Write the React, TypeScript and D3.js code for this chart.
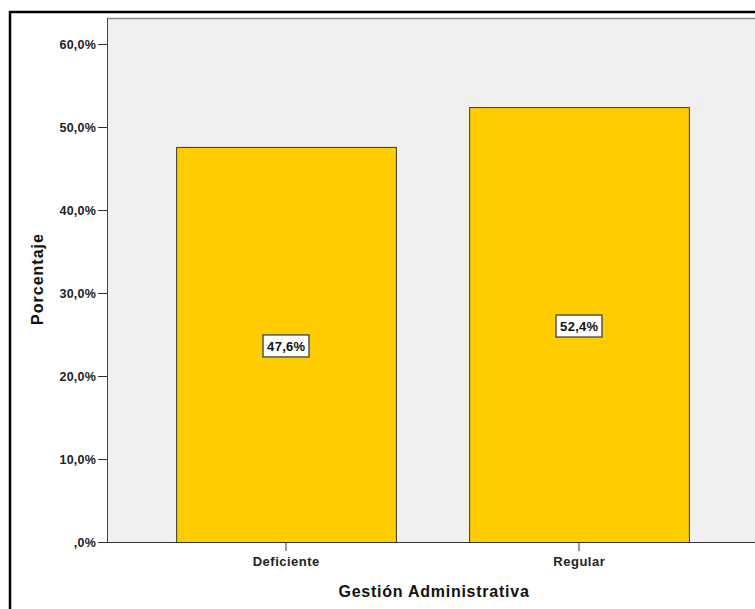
import React from "react";
import * as d3 from "d3";

const categories = ["Deficiente", "Regular"];
const percentages = [47.6, 52.4];
const yTicks = [0, 10, 20, 30, 40, 50, 60];
const yTickLabels = [",0%", "10,0%", "20,0%", "30,0%", "40,0%", "50,0%", "60,0%"];
const valueLabels = ["47,6%", "52,4%"];

const W = 755;
const H = 609;
const plotLeft = 107;
const plotTop = 18;
const plotBottom = 542;

export default function App() {
  const y = d3.scaleLinear().domain([0, 60]).range([plotBottom, 44]);
  const x = d3
    .scaleBand<string>()
    .domain(categories)
    .range([139.5, 725.5])
    .paddingInner(0.25)
    .paddingOuter(0.125);

  const font = "Arial, 'Liberation Sans', sans-serif";

  return (
    <svg
      width={W}
      height={H}
      style={{ position: "absolute", left: 0, top: 0, display: "block" }}
      fontFamily={font}
    >
      <rect x={0} y={0} width={W} height={H} fill="#ffffff" />
      {/* outer frame */}
      <rect x={10} y={12} width={W + 20} height={H + 20} fill="none" stroke="#000" strokeWidth={2.5} />
      {/* plot area */}
      <rect x={plotLeft} y={plotTop} width={W} height={plotBottom - plotTop} fill="#f0f0f0" />
      <line x1={plotLeft} x2={W} y1={plotTop + 0.5} y2={plotTop + 0.5} stroke="#888" strokeWidth={1.5} />
      <line x1={plotLeft + 0.5} x2={plotLeft + 0.5} y1={plotTop} y2={plotBottom} stroke="#444" strokeWidth={1} />

      {/* bars */}
      {categories.map((c, i) => (
        <rect
          key={c}
          x={x(c)! + 0.5}
          y={y(percentages[i]) + 0.5}
          width={x.bandwidth()}
          height={plotBottom - y(percentages[i])}
          fill="#ffcc00"
          stroke="#3a3a3a"
          strokeWidth={1}
        />
      ))}

      {/* x axis line */}
      <line x1={plotLeft} x2={W} y1={plotBottom + 0.5} y2={plotBottom + 0.5} stroke="#333" strokeWidth={1.2} />

      {/* y ticks */}
      {yTicks.map((t, i) => (
        <g key={t}>
          <line x1={98} x2={plotLeft} y1={y(t) + 0.5} y2={y(t) + 0.5} stroke="#333" strokeWidth={1} />
          <text
            x={96}
            y={y(t)}
            dy="0.36em"
            textAnchor="end"
            fontSize={12.5}
            fontWeight="bold"
            letterSpacing={0.2}
            fill="#222"
          >
            {yTickLabels[i]}
          </text>
        </g>
      ))}

      {/* x ticks */}
      {categories.map((c) => {
        const cx = x(c)! + x.bandwidth() / 2;
        return (
          <g key={c}>
            <line x1={cx} x2={cx} y1={plotBottom} y2={plotBottom + 9} stroke="#333" strokeWidth={1} />
            <text
              x={cx + 0.3}
              y={566}
              textAnchor="middle"
              fontSize={13}
              fontWeight="bold"
              letterSpacing={0.5}
              fill="#222"
            >
              {c}
            </text>
          </g>
        );
      })}

      {/* value labels */}
      {categories.map((c, i) => {
        const cx = x(c)! + x.bandwidth() / 2;
        const cy = y(percentages[i] / 2) + 1.5;
        const bw = 46;
        const bh = 22;
        return (
          <g key={c}>
            <rect
              x={cx - bw / 2}
              y={cy - bh / 2}
              width={bw}
              height={bh}
              fill="#ffffff"
              stroke="#555"
              strokeWidth={1.5}
            />
            <text
              x={cx + 0.3}
              y={cy}
              dy="0.36em"
              textAnchor="middle"
              fontSize={13}
              fontWeight="bold"
              letterSpacing={0.3}
              fill="#111"
            >
              {valueLabels[i]}
            </text>
          </g>
        );
      })}

      {/* axis titles */}
      <text
        transform={`translate(43, 279) rotate(-90)`}
        textAnchor="middle"
        fontSize={16}
        fontWeight="bold"
        letterSpacing={1}
        fill="#111"
      >
        Porcentaje
      </text>
      <text
        x={434}
        y={597}
        textAnchor="middle"
        fontSize={16}
        fontWeight="bold"
        letterSpacing={0.75}
        fill="#111"
      >
        Gestión Administrativa
      </text>
    </svg>
  );
}
